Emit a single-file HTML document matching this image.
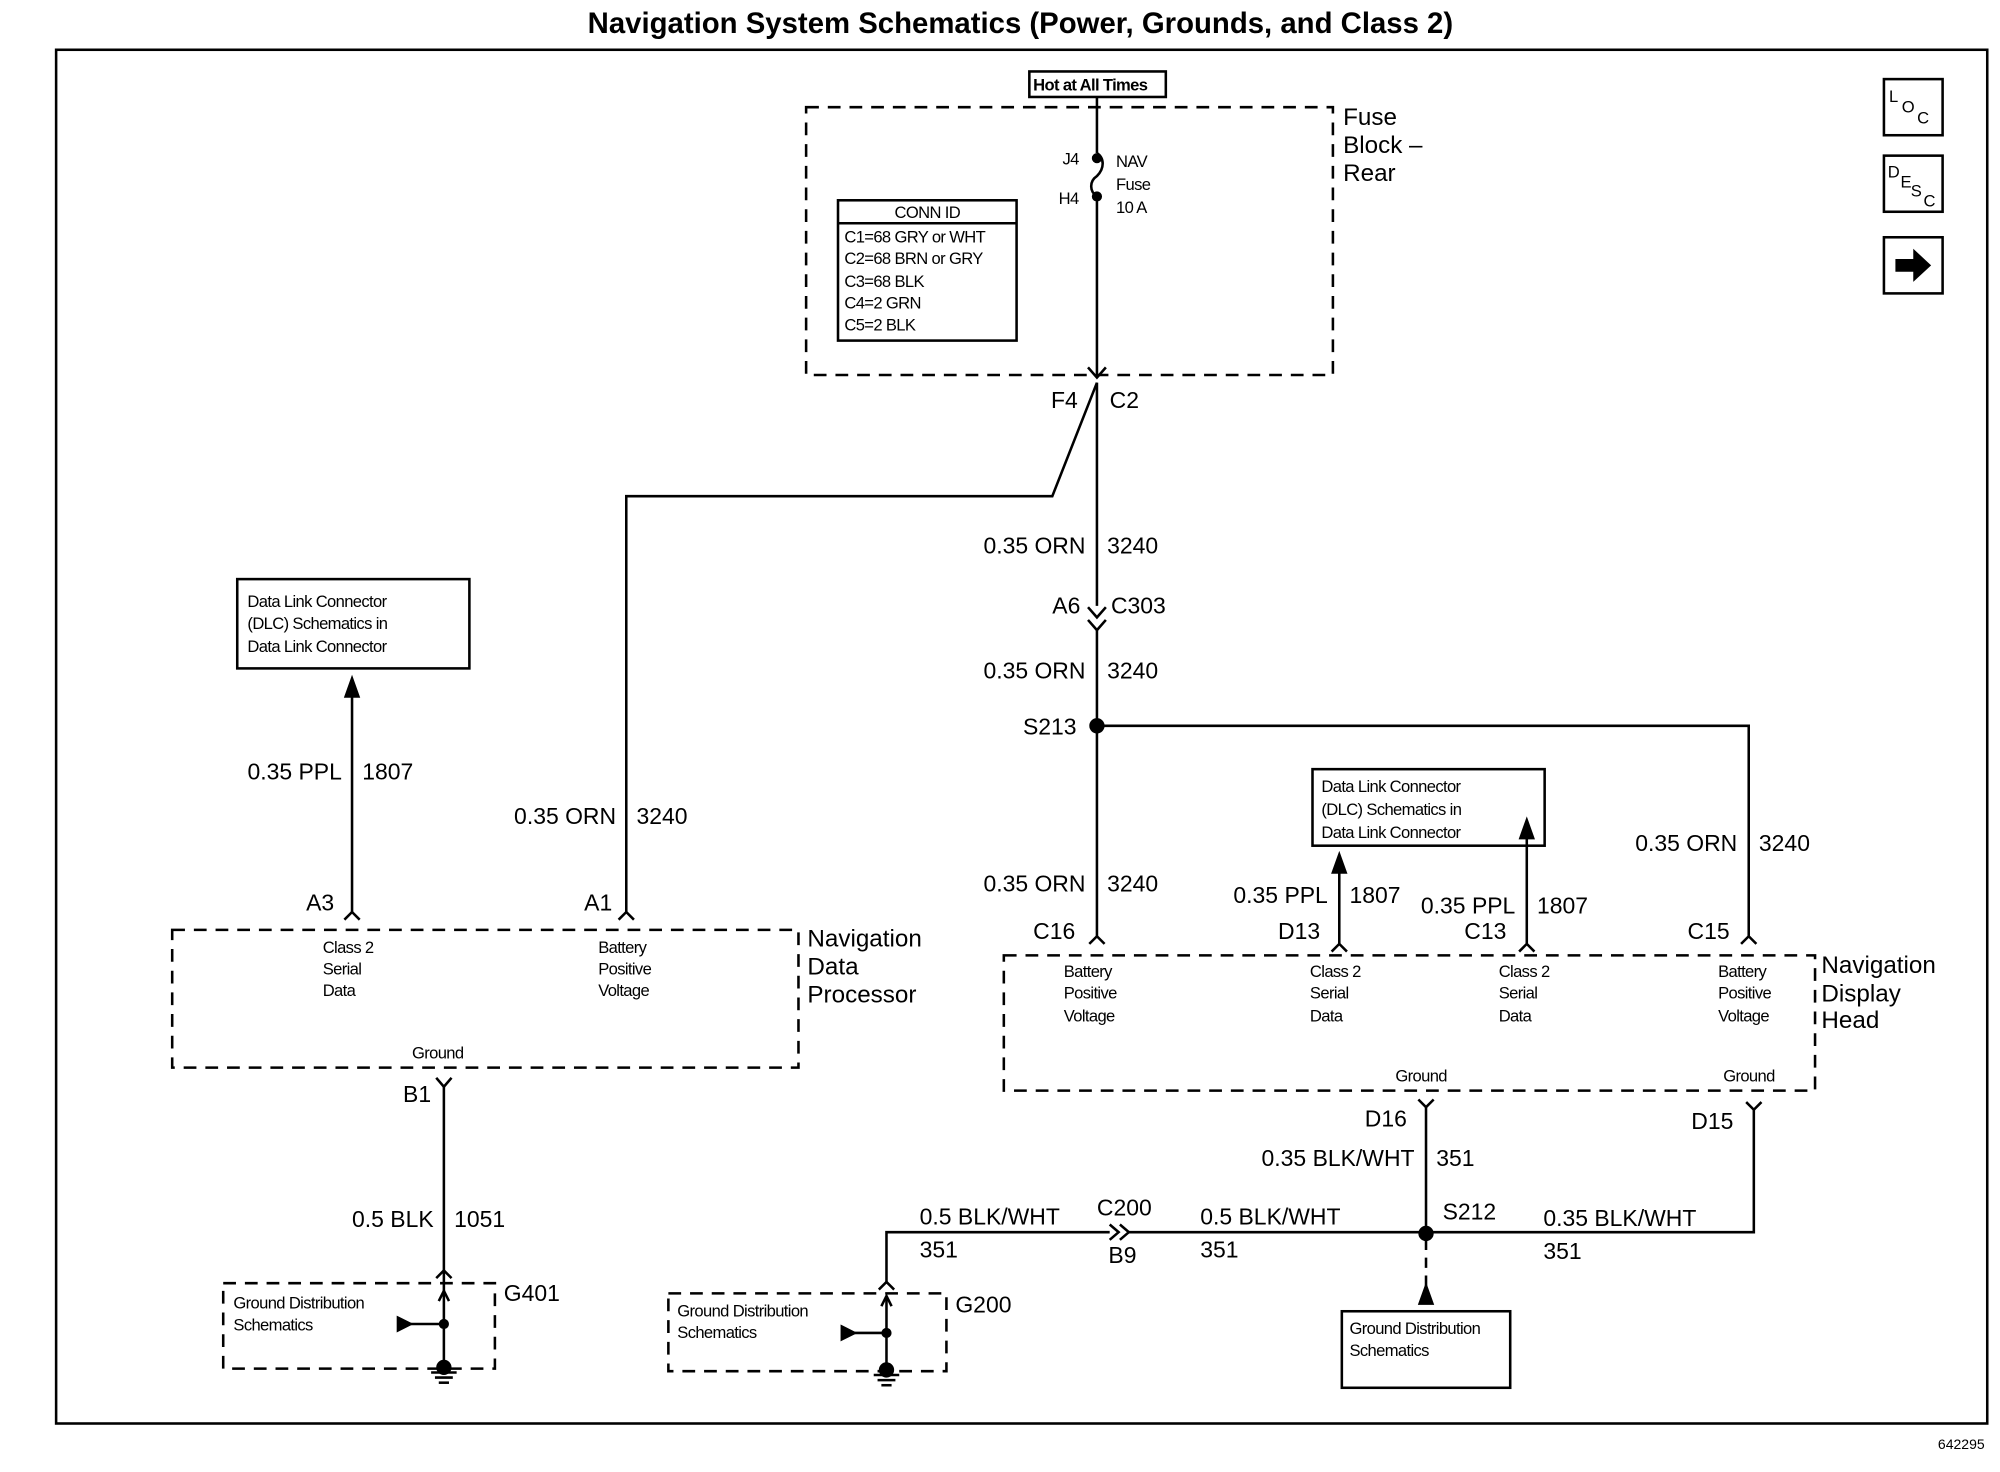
<!DOCTYPE html>
<html><head><meta charset="utf-8"><style>
html,body{margin:0;padding:0;background:#fff;}
svg{display:block;}
text{font-family:"Liberation Sans",Arial,sans-serif;fill:#000;}
.s{font-size:13px;letter-spacing:-0.5px;}
.m{font-size:18px;}
.l{font-size:19px;}
</style></head><body>
<svg width="2000" height="1472" viewBox="0 0 1568 1154" xmlns="http://www.w3.org/2000/svg">
<g fill="none" stroke="#000" stroke-width="2">
<text x="800" y="26" text-anchor="middle" style="font-size:23px;font-weight:bold" stroke="none">Navigation System Schematics (Power, Grounds, and Class 2)</text>
<rect x="44" y="39" width="1514" height="1077"/>
<rect x="1477" y="62" width="46" height="44"/>
<rect x="1477" y="122" width="46" height="44"/>
<rect x="1477" y="186" width="46" height="44"/>
<path d="M1486,203 h14 v-8 l14,13 l-14,13 v-8 h-14 z" fill="#000" stroke="none"/>
<rect x="807" y="56" width="107" height="20"/>
<rect x="632" y="84" width="413" height="210" stroke-dasharray="10,7"/>
<rect x="657" y="157" width="140" height="110"/>
<line x1="657" y1="175" x2="797" y2="175"/>
<line x1="860" y1="76" x2="860" y2="120"/>
<path d="M860,120 c6,4 6,12 0,18 c-6,4 -6,12 0,16"/>
<circle cx="860" cy="124" r="3" fill="#000"/><circle cx="860" cy="154" r="3" fill="#000"/>
<line x1="860" y1="154" x2="860" y2="296"/>
<path d="M853,288 L860,296 L867,288"/>
<line x1="860" y1="300" x2="860" y2="475"/>
<path d="M860,300 L825,389 L491,389 L491,715"/>
<path d="M485,721 L491,715 L497,721"/>
<path d="M853,476 L860,484 L867,476"/>
<path d="M853,486 L860,494 L867,486"/>
<line x1="860" y1="494" x2="860" y2="734"/>
<circle cx="860" cy="569" r="5" fill="#000"/>
<path d="M860,569 H1371 V734"/>
<path d="M854,740 L860,734 L866,740"/>
<path d="M1365,740 L1371,734 L1377,740"/>
<rect x="186" y="454" width="182" height="70"/>
<line x1="276" y1="715" x2="276" y2="540"/>
<path d="M271,546 L276,532 L281,546 Z" fill="#000"/>
<path d="M270,721 L276,715 L282,721"/>
<rect x="1029" y="603" width="182" height="60"/>
<line x1="1050" y1="740" x2="1050" y2="680"/>
<path d="M1045,684 L1050,670 L1055,684 Z" fill="#000"/>
<line x1="1197" y1="740" x2="1197" y2="655"/>
<path d="M1192,657 L1197,643 L1202,657 Z" fill="#000"/>
<path d="M1044,746 L1050,740 L1056,746"/>
<path d="M1191,746 L1197,740 L1203,746"/>
<rect x="135" y="729" width="491" height="108" stroke-dasharray="10,7"/>
<rect x="787" y="749" width="636" height="106" stroke-dasharray="10,7"/>
<path d="M342,845 L348,852 L354,845"/>
<line x1="348" y1="852" x2="348" y2="1072"/>
<path d="M342,1002 L348,996 L354,1002"/>
<rect x="175" y="1006" width="213" height="67" stroke-dasharray="10,7"/>
<path d="M344,1020 L348,1012 L352,1020"/>
<circle cx="348" cy="1038" r="3" fill="#000"/>
<line x1="312" y1="1038" x2="348" y2="1038"/>
<path d="M312,1033 L322,1038 L312,1043 Z" fill="#000"/>
<line x1="338" y1="1076" x2="358" y2="1076"/><line x1="341" y1="1080" x2="355" y2="1080"/><line x1="344" y1="1084" x2="352" y2="1084"/>
<circle cx="348" cy="1072" r="5" fill="#000"/>
<path d="M695,1005 V966 H870"/>
<path d="M689,1011 L695,1005 L701,1011"/>
<path d="M870,960 L877,966 L870,972 M878,960 L885,966 L878,972"/>
<path d="M885,966 H1375 V870"/>
<path d="M1369,864 L1375,870 L1381,864"/>
<rect x="524" y="1014" width="218" height="61" stroke-dasharray="10,7"/>
<line x1="695" y1="1016" x2="695" y2="1072"/>
<path d="M691,1024 L695,1016 L699,1024"/>
<circle cx="695" cy="1045" r="3" fill="#000"/>
<line x1="660" y1="1045" x2="695" y2="1045"/>
<path d="M660,1040 L670,1045 L660,1050 Z" fill="#000"/>
<circle cx="695" cy="1074" r="5" fill="#000"/>
<line x1="685" y1="1078" x2="705" y2="1078"/><line x1="688" y1="1082" x2="702" y2="1082"/><line x1="691" y1="1086" x2="699" y2="1086"/>
<path d="M1112,862 L1118,868 L1124,862"/>
<line x1="1118" y1="868" x2="1118" y2="967"/>
<circle cx="1118" cy="967" r="5" fill="#000"/>
<line x1="1118" y1="972" x2="1118" y2="1014" stroke-dasharray="8,6"/>
<path d="M1113,1022 L1118,1008 L1123,1022 Z" fill="#000"/>
<rect x="1052" y="1028" width="132" height="60"/>
</g>
<g>
<text x="1481" y="80" style="font-size:13px">L</text><text x="1491" y="88" style="font-size:13px">O</text><text x="1503" y="97" style="font-size:13px">C</text>
<text x="1480" y="139" style="font-size:13px">D</text><text x="1490" y="147" style="font-size:13px">E</text><text x="1498" y="154" style="font-size:13px">S</text><text x="1508" y="162" style="font-size:13px">C</text>
<text x="810" y="71" class="s" style="font-weight:bold">Hot at All Times</text>
<text x="1053" y="98" class="l">Fuse</text><text x="1053" y="120" class="l">Block –</text><text x="1053" y="142" class="l">Rear</text>
<text x="727" y="171" class="s" text-anchor="middle">CONN ID</text>
<text x="662" y="190" class="s">C1=68 GRY or WHT</text>
<text x="662" y="207" class="s">C2=68 BRN or GRY</text>
<text x="662" y="225" class="s">C3=68 BLK</text>
<text x="662" y="242" class="s">C4=2 GRN</text>
<text x="662" y="259" class="s">C5=2 BLK</text>
<text x="833" y="129" class="s">J4</text><text x="830" y="160" class="s">H4</text>
<text x="875" y="131" class="s">NAV</text><text x="875" y="149" class="s">Fuse</text><text x="875" y="167" class="s">10 A</text>
<text x="824" y="320" class="m">F4</text><text x="870" y="320" class="m">C2</text>
<text x="851" y="434" class="m" text-anchor="end">0.35 ORN</text><text x="868" y="434" class="m">3240</text>
<text x="825" y="481" class="m">A6</text><text x="871" y="481" class="m">C303</text>
<text x="851" y="532" class="m" text-anchor="end">0.35 ORN</text><text x="868" y="532" class="m">3240</text>
<text x="802" y="576" class="m">S213</text>
<text x="194" y="476" class="s">Data Link Connector</text><text x="194" y="493" class="s">(DLC) Schematics in</text><text x="194" y="511" class="s">Data Link  Connector</text>
<text x="1036" y="621" class="s">Data Link Connector</text><text x="1036" y="639" class="s">(DLC) Schematics in</text><text x="1036" y="657" class="s">Data Link  Connector</text>
<text x="268" y="611" class="m" text-anchor="end">0.35 PPL</text><text x="284" y="611" class="m">1807</text>
<text x="483" y="646" class="m" text-anchor="end">0.35 ORN</text><text x="499" y="646" class="m">3240</text>
<text x="1362" y="667" class="m" text-anchor="end">0.35 ORN</text><text x="1379" y="667" class="m">3240</text>
<text x="851" y="699" class="m" text-anchor="end">0.35 ORN</text><text x="868" y="699" class="m">3240</text>
<text x="1041" y="708" class="m" text-anchor="end">0.35 PPL</text><text x="1058" y="708" class="m">1807</text>
<text x="1188" y="716" class="m" text-anchor="end">0.35 PPL</text><text x="1205" y="716" class="m">1807</text>
<text x="240" y="714" class="m">A3</text><text x="458" y="714" class="m">A1</text>
<text x="810" y="736" class="m">C16</text><text x="1002" y="736" class="m">D13</text><text x="1148" y="736" class="m">C13</text><text x="1323" y="736" class="m">C15</text>
<text x="253" y="747" class="s">Class 2</text><text x="253" y="764" class="s">Serial</text><text x="253" y="781" class="s">Data</text>
<text x="469" y="747" class="s">Battery</text><text x="469" y="764" class="s">Positive</text><text x="469" y="781" class="s">Voltage</text>
<text x="323" y="830" class="s">Ground</text>
<text x="633" y="742" class="l">Navigation</text><text x="633" y="764" class="l">Data</text><text x="633" y="786" class="l">Processor</text>
<text x="834" y="766" class="s">Battery</text><text x="834" y="783" class="s">Positive</text><text x="834" y="801" class="s">Voltage</text>
<text x="1027" y="766" class="s">Class 2</text><text x="1027" y="783" class="s">Serial</text><text x="1027" y="801" class="s">Data</text>
<text x="1175" y="766" class="s">Class 2</text><text x="1175" y="783" class="s">Serial</text><text x="1175" y="801" class="s">Data</text>
<text x="1347" y="766" class="s">Battery</text><text x="1347" y="783" class="s">Positive</text><text x="1347" y="801" class="s">Voltage</text>
<text x="1094" y="848" class="s">Ground</text><text x="1351" y="848" class="s">Ground</text>
<text x="1428" y="763" class="l">Navigation</text><text x="1428" y="785" class="l">Display</text><text x="1428" y="806" class="l">Head</text>
<text x="316" y="864" class="m">B1</text>
<text x="1070" y="883" class="m">D16</text><text x="1326" y="885" class="m">D15</text>
<text x="1109" y="914" class="m" text-anchor="end">0.35 BLK/WHT</text><text x="1126" y="914" class="m">351</text>
<text x="340" y="962" class="m" text-anchor="end">0.5 BLK</text><text x="356" y="962" class="m">1051</text>
<text x="721" y="960" class="m">0.5 BLK/WHT</text><text x="721" y="986" class="m">351</text>
<text x="860" y="953" class="m">C200</text><text x="869" y="990" class="m">B9</text>
<text x="941" y="960" class="m">0.5 BLK/WHT</text><text x="941" y="986" class="m">351</text>
<text x="1131" y="956" class="m">S212</text>
<text x="1210" y="961" class="m">0.35 BLK/WHT</text><text x="1210" y="987" class="m">351</text>
<text x="183" y="1026" class="s">Ground Distribution</text><text x="183" y="1043" class="s">Schematics</text>
<text x="395" y="1020" class="m">G401</text>
<text x="531" y="1032" class="s">Ground Distribution</text><text x="531" y="1049" class="s">Schematics</text>
<text x="749" y="1029" class="m">G200</text>
<text x="1058" y="1046" class="s">Ground Distribution</text><text x="1058" y="1063" class="s">Schematics</text>
<text x="1556" y="1136" style="font-size:11px" text-anchor="end">642295</text>
</g>
</svg>
</body></html>
